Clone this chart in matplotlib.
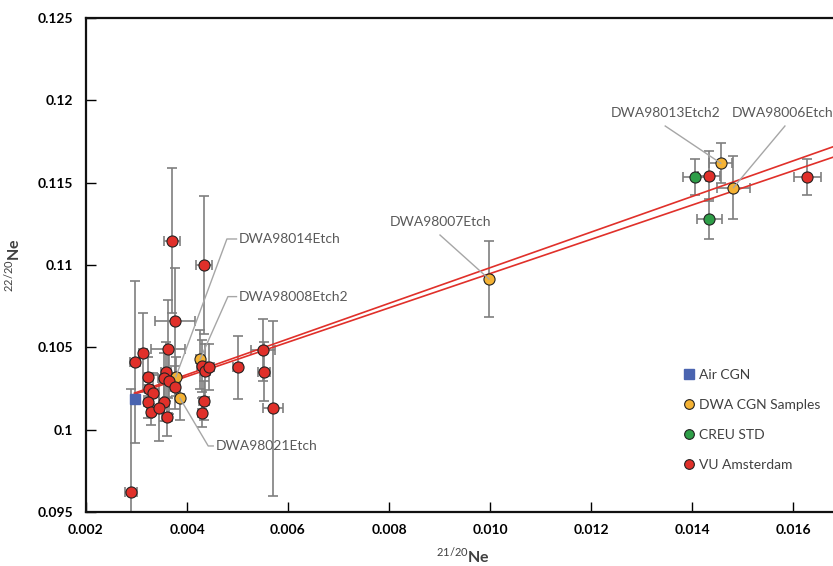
import numpy as np
import matplotlib
matplotlib.use('Agg')
import matplotlib.pyplot as plt
from matplotlib.lines import Line2D

plt.rcParams['font.family'] = ['Lato', 'DejaVu Sans']
plt.rcParams['mathtext.fontset'] = 'custom'
plt.rcParams['mathtext.rm'] = 'Lato'
plt.rcParams['mathtext.bf'] = 'Lato:bold'

# VU Amsterdam (red)
vu_x = [0.00312, 0.00297, 0.00363, 0.00429, 0.00436, 0.00444, 0.00323, 0.00358,
        0.00355, 0.00364, 0.00376, 0.00325, 0.00333, 0.00323, 0.00355, 0.00328,
        0.00345, 0.00360, 0.00434, 0.00429, 0.00371, 0.00434, 0.00376, 0.00500,
        0.00550, 0.00553, 0.00571, 0.00289, 0.01434, 0.01628]
vu_y = [0.10468, 0.10410, 0.10490, 0.10387, 0.10359, 0.10379, 0.10322, 0.10352,
        0.10316, 0.10298, 0.10258, 0.10246, 0.10225, 0.10170, 0.10170, 0.10110,
        0.10130, 0.10079, 0.10176, 0.10104, 0.11148, 0.11000, 0.10662, 0.10379,
        0.10484, 0.10353, 0.10130, 0.09620, 0.11541, 0.11533]
vu_xerr = [0.00008, 0.00010, 0.00034, 0.00010, 0.00010, 0.00010, 0.00008, 0.00010,
           0.00012, 0.00010, 0.00010, 0.00008, 0.00010, 0.00008, 0.00010, 0.00008,
           0.00010, 0.00010, 0.00010, 0.00008, 0.00016, 0.00016, 0.00039, 0.00008,
           0.00024, 0.00012, 0.00020, 0.00012, 0.00022, 0.00027]
vu_yerr = [0.0024, 0.0049, 0.0030, 0.0016, 0.0016, 0.0014, 0.0012, 0.0018,
           0.0015, 0.0020, 0.0013, 0.0010, 0.0012, 0.0010, 0.0012, 0.0008,
           0.0020, 0.0012, 0.0012, 0.0009, 0.0044, 0.0042, 0.0032, 0.0019,
           0.0019, 0.0018, 0.0053, 0.0063, 0.0015, 0.0011]

# DWA CGN samples (yellow)
dwa_names = ['DWA98008Etch2', 'DWA98014Etch', 'DWA98021Etch',
             'DWA98007Etch', 'DWA98013Etch2', 'DWA98006Etch']
dwa_x = [0.00426, 0.00378, 0.00386, 0.00998, 0.01457, 0.01482]
dwa_y = [0.10428, 0.10322, 0.10191, 0.10915, 0.11618, 0.11470]
dwa_xerr = [0.00008, 0.00008, 0.00008, 0.00006, 0.00023, 0.00033]
dwa_yerr = [0.0018, 0.0012, 0.0013, 0.0023, 0.0012, 0.0019]

# CREU STD (green)
creu_x = [0.01405, 0.01434]
creu_y = [0.11533, 0.11278]
creu_xerr = [0.00022, 0.00025]
creu_yerr = [0.0011, 0.0012]

# Air CGN
air_x = [0.00297]
air_y = [0.10187]

# two mixing lines from air
line_x = [0.00296, 0.0172]
line1_y = [0.10222, 0.11762]
line2_y = [0.10215, 0.11697]

xtick_vals = [0.002, 0.004, 0.006, 0.008, 0.010, 0.012, 0.014, 0.016]
xtick_labels = ['0.002', '0.004', '0.006', '0.008', '0.010', '0.012', '0.014', '0.016']
ytick_vals = [0.095, 0.1, 0.105, 0.11, 0.115, 0.12, 0.125]
ytick_labels = ['0.095', '0.1', '0.105', '0.11', '0.115', '0.12', '0.125']

red = '#E0302A'
yellow = '#F4B234'
green = '#2E9E48'
blue = '#4A64B0'
bar_col = '#7F7F7F'
lead_col = '#A6A6A6'
txt_col = '#595959'

fig = plt.figure(figsize=(8.33, 5.66), dpi=100)
ax = fig.add_axes([86/833, 54/566, 808/833, 494/566])

eb = dict(fmt='none', ecolor=bar_col, elinewidth=1.2, capsize=3.8, capthick=1.2, zorder=2)
ax.errorbar(vu_x, vu_y, xerr=vu_xerr, yerr=vu_yerr, **eb)
ax.errorbar(dwa_x, dwa_y, xerr=dwa_xerr, yerr=dwa_yerr, **eb)
ax.errorbar(creu_x, creu_y, xerr=creu_xerr, yerr=creu_yerr, **eb)

ax.plot(line_x, line1_y, color=red, lw=1.2, zorder=3)
ax.plot(line_x, line2_y, color=red, lw=1.2, zorder=3)

ms = 8
ax.plot(air_x, air_y, 's', ms=7, color=blue, mec=blue, zorder=4)
ax.plot(dwa_x, dwa_y, 'o', ms=ms, mfc=yellow, mec='#222222', mew=0.8, zorder=4)
ax.plot(creu_x, creu_y, 'o', ms=ms, mfc=green, mec='#222222', mew=0.8, zorder=4)
ax.plot(vu_x, vu_y, 'o', ms=ms, mfc=red, mec='#222222', mew=0.8, zorder=4)

# data labels with leader lines
def leader(i, corner, end, text_xy, ha):
    ax.plot([dwa_x[i], corner[0], end[0]], [dwa_y[i], corner[1], end[1]],
            color=lead_col, lw=1, zorder=5)
    ax.text(text_xy[0], text_xy[1], dwa_names[i], ha=ha, va='center',
            fontsize=10, color=txt_col, zorder=6)

leader(1, (0.00479, 0.11158), (0.00498, 0.11158), (0.00503, 0.11158), 'left')
leader(0, (0.00481, 0.10808), (0.00498, 0.10808), (0.00503, 0.10808), 'left')
leader(2, (0.00442, 0.09901), (0.00452, 0.09901), (0.00457, 0.09901), 'left')
leader(3, (0.00901, 0.11182), (0.00901, 0.11182), (0.00901, 0.11263), 'center')
leader(4, (0.01347, 0.11844), (0.01347, 0.11844), (0.01347, 0.11923), 'center')
leader(5, (0.01584, 0.11844), (0.01584, 0.11844), (0.01478, 0.11923), 'left')

ax.set_xlim(0.002, 0.018)
ax.set_ylim(0.095, 0.125)
ax.set_xticks(xtick_vals)
ax.set_xticklabels(xtick_labels)
ax.set_yticks(ytick_vals)
ax.set_yticklabels(ytick_labels)
ax.tick_params(direction='in', length=7, width=1, labelsize=10, pad=9)
for lab in ax.get_xticklabels() + ax.get_yticklabels():
    lab.set_fontweight('bold')
for s in ax.spines.values():
    s.set_linewidth(1.6)
    s.set_color('#111111')

ax.set_xlabel(r'$^{21/20}$Ne', fontsize=11.5, fontweight='bold', color='#404040')
ax.xaxis.set_label_coords(0.467, -0.068)
ax.set_ylabel(r'$^{22/20}$Ne', fontsize=11.5, fontweight='bold', color='#404040')
ax.yaxis.set_label_coords(-0.078, 0.5)

handles = [
    Line2D([], [], ls='none', marker='s', ms=7, color=blue),
    Line2D([], [], ls='none', marker='o', ms=7, mfc=yellow, mec='#222222', mew=0.8),
    Line2D([], [], ls='none', marker='o', ms=7, mfc=green, mec='#222222', mew=0.8),
    Line2D([], [], ls='none', marker='o', ms=7, mfc=red, mec='#222222', mew=0.8),
]
ax.legend(handles, ['Air CGN', 'DWA CGN Samples', 'CREU STD', 'VU Amsterdam'],
          loc='upper left', bbox_to_anchor=(668/833, 1 - 356/566),
          bbox_transform=fig.transFigure, frameon=False, fontsize=10,
          labelspacing=1.3, handletextpad=0.1, handlelength=1.2,
          labelcolor='#404040')

fig.savefig('out.png', dpi=100)
